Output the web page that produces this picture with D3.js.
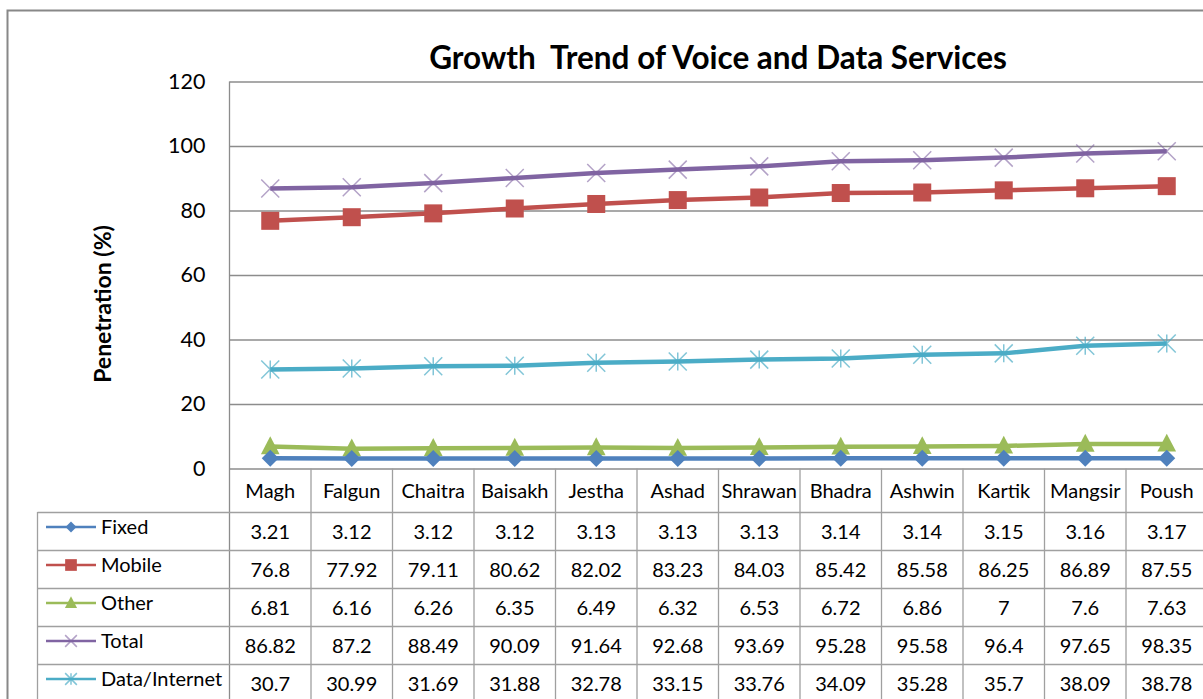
<!DOCTYPE html>
<html>
<head>
<meta charset="utf-8">
<script src="https://cdn.jsdelivr.net/npm/d3@7"></script>
<style>
  body { margin: 0; background: #fff; }
  svg { font-family: Lato, "Open Sans", sans-serif; }
</style>
</head>
<body>
<svg id="chart" width="1203" height="699"></svg>
<script>
const months = ["Magh", "Falgun", "Chaitra", "Baisakh", "Jestha", "Ashad", "Shrawan", "Bhadra", "Ashwin", "Kartik", "Mangsir", "Poush"];
const fixed = [3.21, 3.12, 3.12, 3.12, 3.13, 3.13, 3.13, 3.14, 3.14, 3.15, 3.16, 3.17];
const mobile = [76.8, 77.92, 79.11, 80.62, 82.02, 83.23, 84.03, 85.42, 85.58, 86.25, 86.89, 87.55];
const other = [6.81, 6.16, 6.26, 6.35, 6.49, 6.32, 6.53, 6.72, 6.86, 7, 7.6, 7.63];
const total = [86.82, 87.2, 88.49, 90.09, 91.64, 92.68, 93.69, 95.28, 95.58, 96.4, 97.65, 98.35];
const dataInternet = [30.7, 30.99, 31.69, 31.88, 32.78, 33.15, 33.76, 34.09, 35.28, 35.7, 38.09, 38.78];
const yTicks = [0, 20, 40, 60, 80, 100, 120];

const series = [
    { name: "Fixed", values: fixed, color: "#4F81BD", marker: "diamond" },
    { name: "Mobile", values: mobile, color: "#C0504D", marker: "square" },
    { name: "Other", values: other, color: "#9BBB59", marker: "triangle" },
    { name: "Total", values: total, color: "#8064A2", marker: "cross" },
    { name: "Data/Internet", values: dataInternet, color: "#4BACC6", marker: "star" },
];

const svg = d3.select("#chart");
const gridColor = "#8c8c8c";
const cellFont = 20;

// chart frame (runs off to the right)
svg.append("rect")
    .attr("x", 7.5).attr("y", 10.5)
    .attr("width", 1300).attr("height", 800)
    .attr("fill", "none")
    .attr("stroke", "#888").attr("stroke-width", 2);

const x = d3.scaleBand().domain(months).range([229.5, 1207.5]);
const y = d3.scaleLinear().domain([0, 120]).range([468.5, 81.5]);

// title
svg.append("text")
    .attr("x", 718).attr("y", 69)
    .attr("text-anchor", "middle")
    .attr("font-size", 31.5).attr("font-weight", "bold")
    .attr("fill", "#000")
    .style("white-space", "pre")
    .text("Growth  Trend of Voice and Data Services");

// y axis label
svg.append("text")
    .attr("transform", "translate(111,304) rotate(-90)")
    .attr("text-anchor", "middle")
    .attr("font-size", 23).attr("font-weight", "bold")
    .text("Penetration (%)");

// gridlines + tick labels
const yAxis = svg.append("g")
    .attr("transform", "translate(229.5,0)")
    .call(d3.axisLeft(y).tickValues(yTicks).tickSize(-1000).tickPadding(24));
yAxis.select(".domain").remove();
yAxis.selectAll(".tick line").attr("stroke", gridColor).attr("stroke-width", 1.3);
yAxis.selectAll(".tick text")
    .attr("font-size", 21.5).attr("fill", "#000")
    .attr("font-family", "Lato, 'Open Sans', sans-serif");

// left axis line extended down through the header row
svg.append("line")
    .attr("x1", 229.5).attr("x2", 229.5)
    .attr("y1", 81.5).attr("y2", 699)
    .attr("stroke", gridColor).attr("stroke-width", 1.3);

// data table
const rowTop = 512;
const rowH = 38;
const tableLeft = 37.5;

const tbl = svg.append("g").attr("stroke", "#a0a0a0").attr("stroke-width", 1.3);
months.forEach(m => {
    tbl.append("line")
        .attr("x1", x(m) + x.bandwidth()).attr("x2", x(m) + x.bandwidth())
        .attr("y1", 468.5).attr("y2", 699);
});
series.forEach((s, i) => {
    tbl.append("line")
        .attr("x1", tableLeft).attr("x2", 1207)
        .attr("y1", rowTop + i * rowH + 0.5).attr("y2", rowTop + i * rowH + 0.5);
});
tbl.append("line")
    .attr("x1", tableLeft).attr("x2", tableLeft)
    .attr("y1", rowTop).attr("y2", 699);

// header labels
svg.append("g").selectAll("text")
    .data(months).join("text")
    .attr("x", d => x(d) + x.bandwidth() / 2)
    .attr("y", 498)
    .attr("text-anchor", "middle")
    .attr("font-size", cellFont)
    .text(d => d);

function drawMarker(g, type, color, size) {
    const h = size / 2;
    if (type === "diamond") {
        g.append("path").attr("d", `M0,${-h}L${h},0L0,${h}L${-h},0Z`)
            .attr("fill", color);
    } else if (type === "square") {
        g.append("rect").attr("x", -h).attr("y", -h)
            .attr("width", size).attr("height", size).attr("fill", color);
    } else if (type === "triangle") {
        g.append("path").attr("d", `M0,${-size * 0.6}L${size * 0.55},${size * 0.45}L${-size * 0.55},${size * 0.45}Z`)
            .attr("fill", color);
    } else if (type === "cross") {
        g.append("path").attr("d", `M${-h},${-h}L${h},${h}M${-h},${h}L${h},${-h}`)
            .attr("stroke", color).attr("stroke-width", 1.5).attr("opacity", 0.6).attr("fill", "none");
    } else if (type === "star") {
        g.append("path").attr("d", `M${-h},${-h}L${h},${h}M${-h},${h}L${h},${-h}M0,${-h}L0,${h}`)
            .attr("stroke", color).attr("stroke-width", 1.5).attr("opacity", 0.7).attr("fill", "none");
    }
}

const markerSize = { diamond: 17, square: 18, triangle: 17, cross: 18, star: 18 };

// table rows: legend key, name, values
series.forEach((s, i) => {
    const cy = rowTop + i * rowH + rowH / 2;
    svg.append("line")
        .attr("x1", 46).attr("x2", 96)
        .attr("y1", cy - 4).attr("y2", cy - 4)
        .attr("stroke", s.color).attr("stroke-width", 2.5);
    const mk = svg.append("g").attr("transform", `translate(71,${cy - 4})`);
    drawMarker(mk, s.marker, s.color, markerSize[s.marker] * 0.65);
    svg.append("text")
        .attr("x", 101).attr("y", cy + 3)
        .attr("font-size", cellFont)
        .text(s.name);
    svg.append("g").selectAll("text")
        .data(s.values).join("text")
        .attr("x", (d, j) => x(months[j]) + x.bandwidth() / 2)
        .attr("y", cy + 8)
        .attr("text-anchor", "middle")
        .attr("font-size", cellFont)
        .text(d => d);
});

// lines + markers
const line = d3.line()
    .x((d, j) => x(months[j]) + x.bandwidth() / 2)
    .y(d => y(d));

const drawOrder = [1, 3, 4, 2, 0];
drawOrder.forEach(idx => {
    const s = series[idx];
    svg.append("path")
        .datum(s.values)
        .attr("d", line)
        .attr("fill", "none")
        .attr("stroke", s.color)
        .attr("stroke-width", 4.5);
    s.values.forEach((v, j) => {
        const g = svg.append("g")
            .attr("transform", `translate(${x(months[j]) + x.bandwidth() / 2},${y(v)})`);
        drawMarker(g, s.marker, s.color, markerSize[s.marker]);
    });
});
</script>
</body>
</html>
